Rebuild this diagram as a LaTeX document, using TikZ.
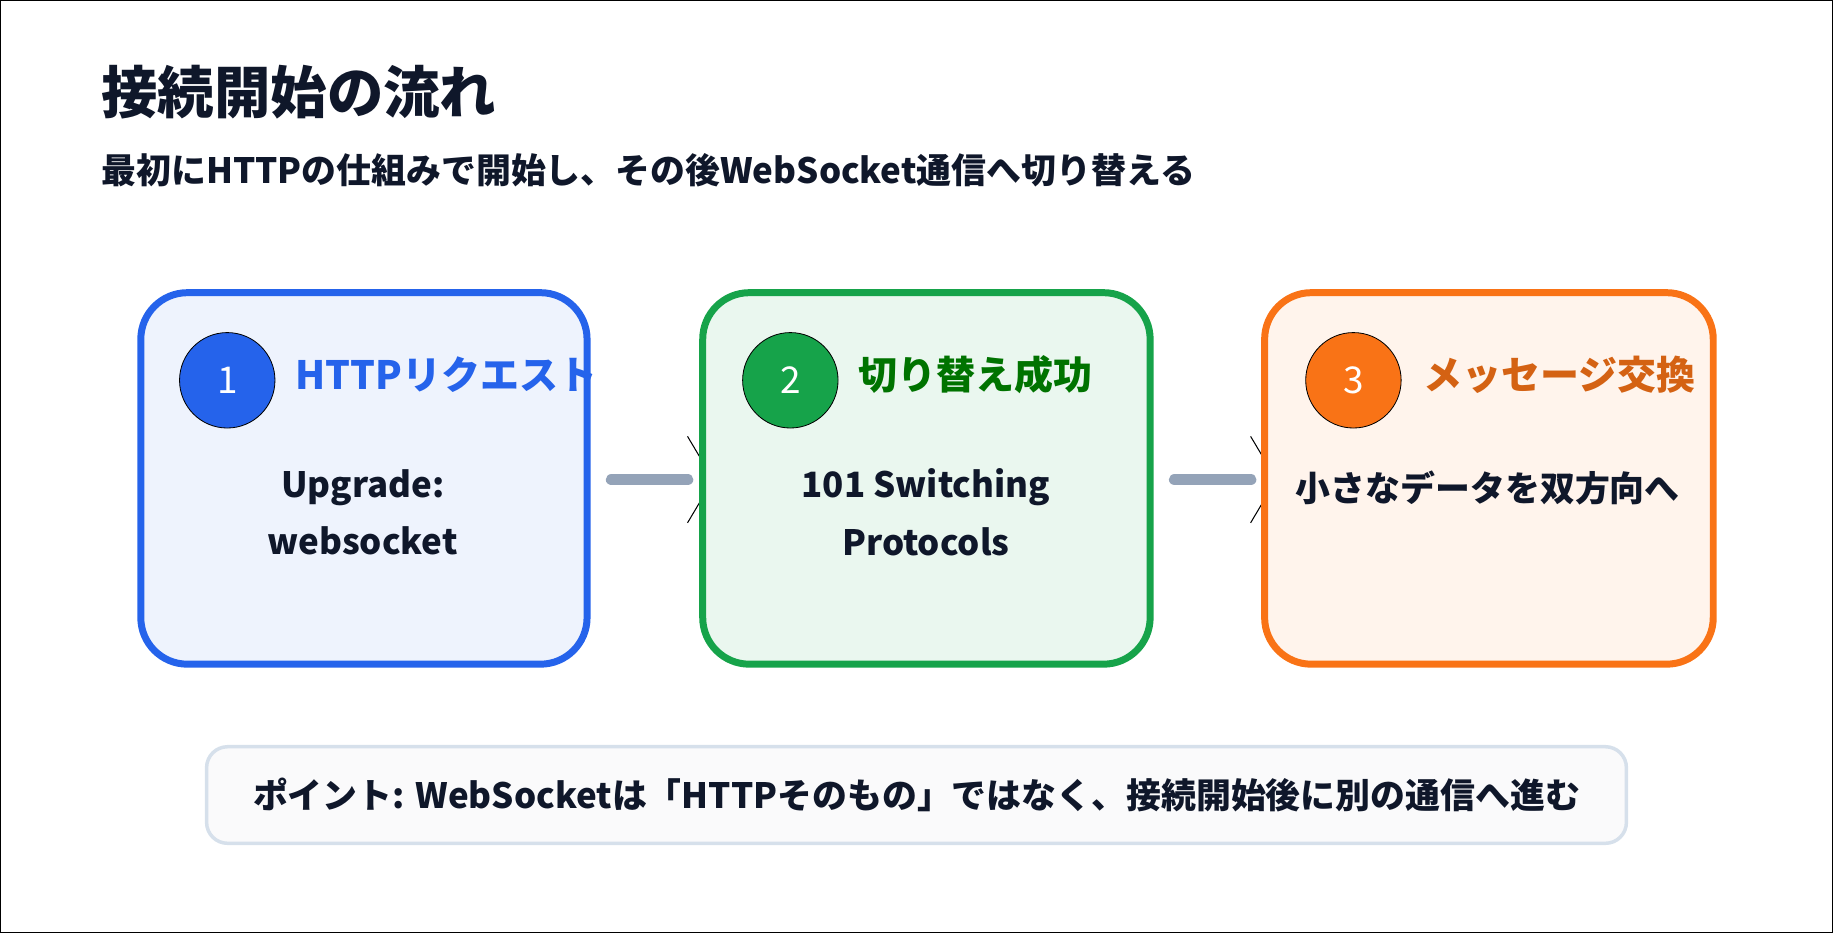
\documentclass[tikz,border=0pt]{standalone}
\usepackage{fontspec}
\setmainfont{Noto Sans CJK JP}
\usetikzlibrary{arrows.meta}
\definecolor{ink}{HTML}{0F172A}
\definecolor{blu}{HTML}{2563EB}
\definecolor{grn}{HTML}{16A34A}
\definecolor{org}{HTML}{F97316}
\definecolor{arr}{HTML}{94A3B8}
\definecolor{rim}{HTML}{D6E0EB}

\begin{document}
\begin{tikzpicture}[x=0.02cm,y=-0.02cm]

  \tikzset{stage/.style={draw, line width=6*0.567pt, rounded corners=40*0.567pt},
           badge/.style={draw=black, circle, minimum size=82*0.567pt, inner sep=0pt, text=white, font=\fontsize{18}{20}\selectfont},
           head/.style={anchor=west, font=\fontsize{19}{22}\selectfont\bfseries},
           body/.style={align=center, text=ink, font=\fontsize{17}{28}\selectfont\bfseries},
           flow/.style={draw=arr, line width=10*0.567pt, line cap=round}}

\useasboundingbox[draw=black, line width=0.6pt] (0,0) rectangle (1568,798);

\node[anchor=west, text=ink, font=\fontsize{27.5}{30}\selectfont\bfseries] (title) at (80,78) {接続開始の流れ};
\node[anchor=west, text=ink, font=\fontsize{17}{20}\selectfont\bfseries] (sub) at (80,145) {最初にHTTPの仕組みで開始し、その後WebSocket通信へ切り替える};

% connectors first, the boxes cover their tips
\coordinate (a1) at (523,410);
\coordinate (b1) at (1005,410);
\node[inner sep=0pt] (t1) at (610,410) {};
\node[inner sep=0pt] (t2) at (1092,410) {};
\draw[flow] (a1) -- (588,410);
\draw[flow] (b1) -- (1070,410);
\filldraw[fill=arr, draw=black, line width=0.5pt] (588,373) -- (t1) -- (588,447) -- cycle;
\filldraw[fill=arr, draw=black, line width=0.5pt] (1070,373) -- (t2) -- (1070,447) -- cycle;

\draw[stage, draw=blu, fill=blu!8] (120,250) rectangle (502,568);
\draw[stage, draw=grn, fill=grn!9] (601,250) rectangle (984,568);
\draw[stage, draw=org, fill=org!8] (1082,250) rectangle (1466,568);

\node[badge, fill=blu] (n1) at (194,325) {1};
\node[badge, fill=grn] (n2) at (676,325) {2};
\node[badge, fill=org] (n3) at (1158,325) {3};

\node[head, text=blu] (h1) at (246,320) {HTTPリクエスト};
\node[head, text=green!45!black] (h2) at (728,320) {切り替え成功};
\node[head, text=org!85!black] (h3) at (1212,320) {メッセージ交換};

\node[body] (d1) at (310,438) {Upgrade:\\websocket};
\node[body] (d2) at (792,438) {101 Switching\\Protocols};
\node[body] (d3) at (1273,417) {小さなデータを双方向へ};

\node[draw=rim, fill=ink!2, line width=3*0.567pt, rounded corners=18*0.567pt, minimum width=1220*0.567pt, minimum height=83*0.567pt, text=ink, font=\fontsize{17}{20}\selectfont\bfseries] (pt) at (784,680) {ポイント: WebSocketは「HTTPそのもの」ではなく、接続開始後に別の通信へ進む};

\end{tikzpicture}
\end{document}
